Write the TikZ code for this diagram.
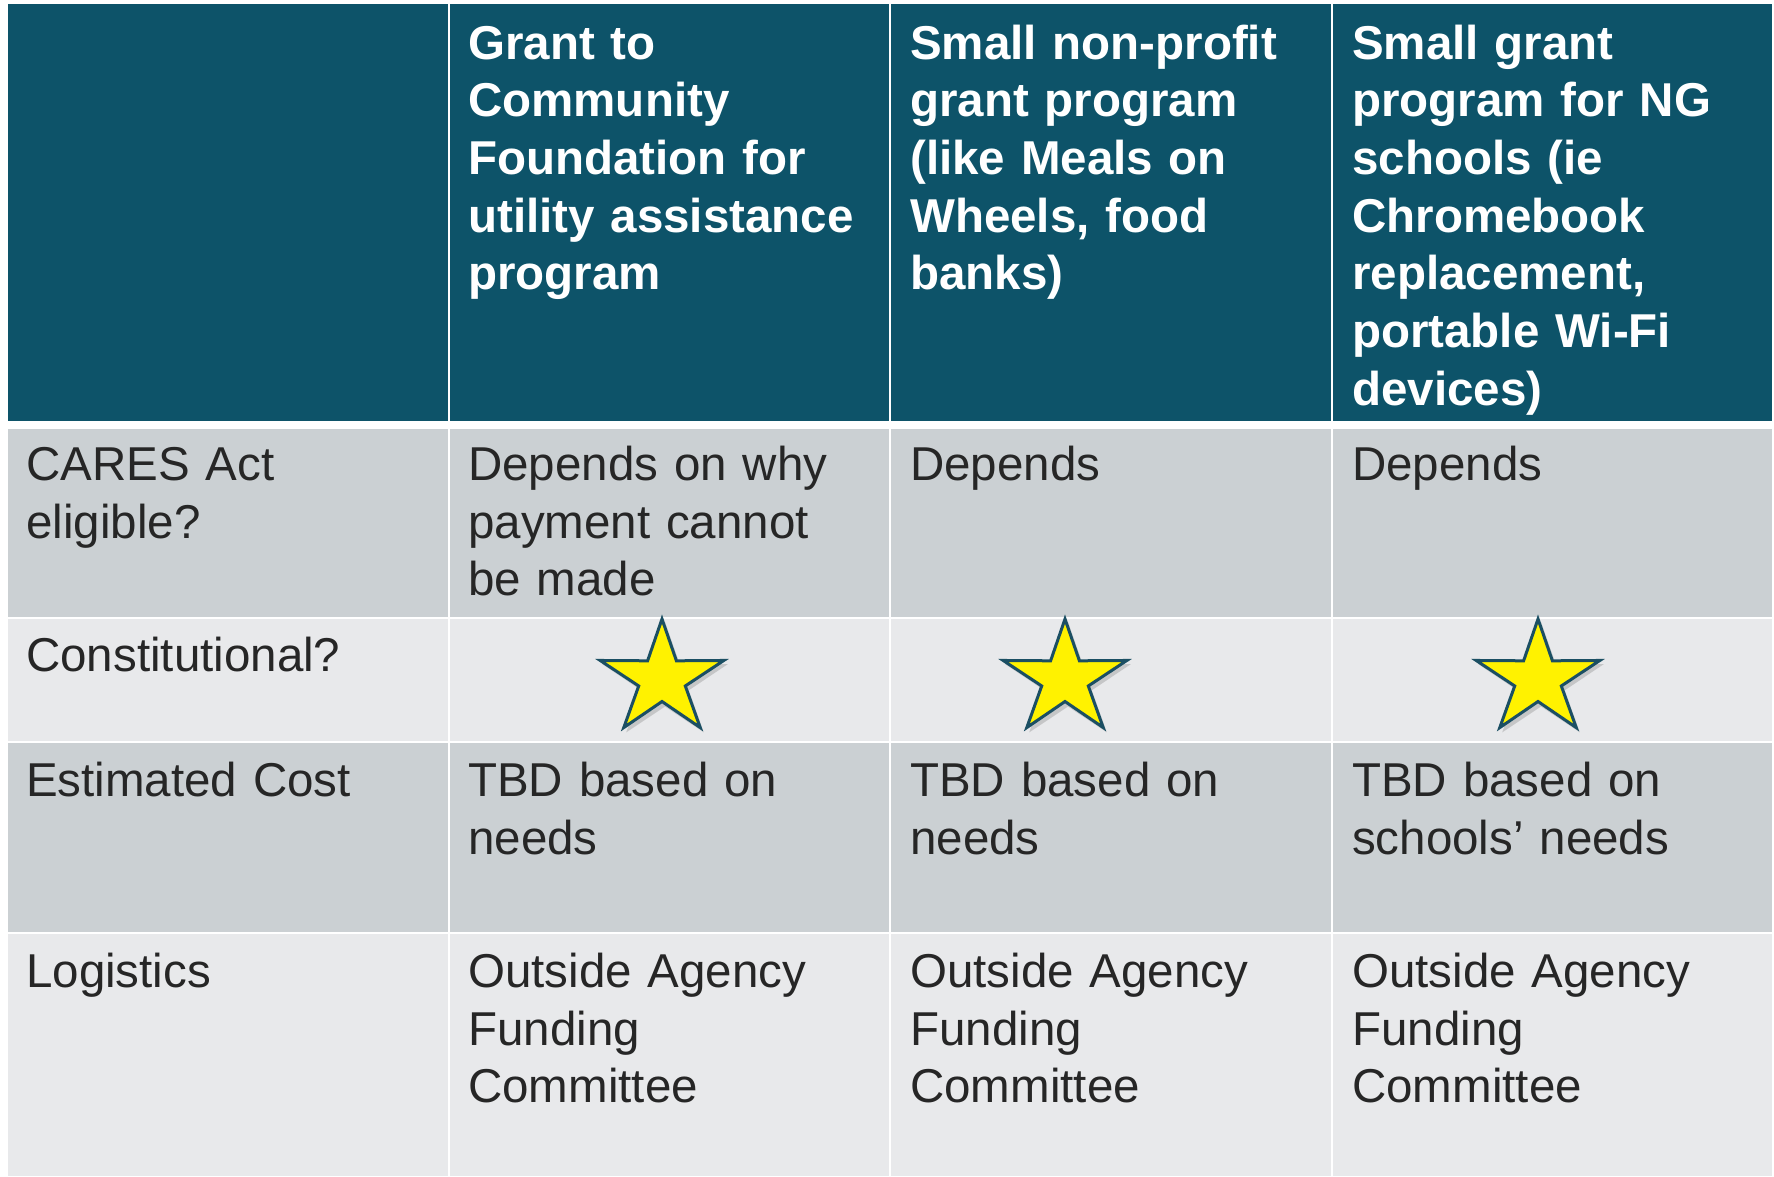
\documentclass[tikz,border=0pt]{standalone}
\usepackage{fontspec}
\setmainfont{Liberation Sans}
\usepackage{xcolor}
\definecolor{headteal}{HTML}{0D5369}
\definecolor{rowdark}{HTML}{CBD0D3}
\definecolor{rowlight}{HTML}{E8E9EB}
\definecolor{bodytext}{HTML}{262626}
\definecolor{staredge}{HTML}{1B4F63}
\tikzset{
  headtext/.style={anchor=base west, inner sep=0pt, text width=430pt, align=left,
    text=white, font=\bfseries\fontsize{47.5}{57.7}\selectfont},
  celltext/.style={anchor=base west, inner sep=0pt, text width=430pt, align=left,
    text=bodytext, font=\fontsize{47.5}{57.7}\selectfont},
  starfill/.style={fill=yellow, draw=staredge, line width=3pt, line join=miter},
  starshade/.style={fill=black, opacity=0.15}
}

\begin{document}
\begin{tikzpicture}[x=1pt,y=1pt]
\useasboundingbox (0,0) rectangle (1774,-1176);
\fill [white] (0,0) rectangle (1774,-1176);
\fill [headteal] (8,-4) rectangle (447.5,-421);
\fill [headteal] (449.7,-4) rectangle (889.3,-421);
\fill [headteal] (891.3,-4) rectangle (1330.5,-421);
\fill [headteal] (1332.5,-4) rectangle (1772,-421);
\fill [rowdark] (8,-428.7) rectangle (447.5,-616.5);
\fill [rowdark] (449.7,-428.7) rectangle (889.3,-616.5);
\fill [rowdark] (891.3,-428.7) rectangle (1330.5,-616.5);
\fill [rowdark] (1332.5,-428.7) rectangle (1772,-616.5);
\fill [rowlight] (8,-618.5) rectangle (447.5,-741);
\fill [rowlight] (449.7,-618.5) rectangle (889.3,-741);
\fill [rowlight] (891.3,-618.5) rectangle (1330.5,-741);
\fill [rowlight] (1332.5,-618.5) rectangle (1772,-741);
\fill [rowdark] (8,-743) rectangle (447.5,-931.5);
\fill [rowdark] (449.7,-743) rectangle (889.3,-931.5);
\fill [rowdark] (891.3,-743) rectangle (1330.5,-931.5);
\fill [rowdark] (1332.5,-743) rectangle (1772,-931.5);
\fill [rowlight] (8,-934) rectangle (447.5,-1176);
\fill [rowlight] (449.7,-934) rectangle (889.3,-1176);
\fill [rowlight] (891.3,-934) rectangle (1330.5,-1176);
\fill [rowlight] (1332.5,-934) rectangle (1772,-1176);
\node [headtext] (h1) at (468,-59) {Grant to\\Community\\Foundation for\\utility assistance\\program};
\node [headtext] (h2) at (910,-59) {Small non-profit\\grant program\\(like Meals on\\Wheels, food\\banks)};
\node [headtext] (h3) at (1352,-59) {Small grant\\program for NG\\schools (ie\\Chromebook\\replacement,\\portable Wi-Fi\\devices)};
\node [celltext] (l1) at (26,-480.5) {CARES Act\\eligible?};
\node [celltext] (l2) at (26,-671.5) {Constitutional?};
\node [celltext] (l3) at (26,-796.5) {Estimated Cost};
\node [celltext] (l4) at (26,-987.5) {Logistics};
\node [celltext] (c11) at (468,-480.5) {Depends on why\\payment cannot\\be made};
\node [celltext] (c12) at (910,-480.5) {Depends};
\node [celltext] (c13) at (1352,-480.5) {Depends};
\node [celltext] (c31) at (468,-796.5) {TBD based on\\needs};
\node [celltext] (c32) at (910,-796.5) {TBD based on\\needs};
\node [celltext] (c33) at (1352,-796.5) {TBD based on\\schools’ needs};
\node [celltext] (c41) at (468,-987.5) {Outside Agency\\Funding\\Committee};
\node [celltext] (c42) at (910,-987.5) {Outside Agency\\Funding\\Committee};
\node [celltext] (c43) at (1352,-987.5) {Outside Agency\\Funding\\Committee};
\foreach \sx in {662,1065,1538} {
  \begin{scope}[shift={(\sx+3,-683)}]
    \fill [starshade] (90:66 and 61) -- (126:25 and 23.5) -- (162:66 and 61) -- (198:25 and 23.5)
      -- (234:66 and 61) -- (270:25 and 23.5) -- (306:66 and 61) -- (342:25 and 23.5)
      -- (18:66 and 61) -- (54:25 and 23.5) -- cycle;
  \end{scope}
  \begin{scope}[shift={(\sx,-679)}]
    \draw [starfill] (90:65 and 60) -- (126:24.5 and 22.5) -- (162:65 and 60) -- (198:24.5 and 22.5)
      -- (234:65 and 60) -- (270:24.5 and 22.5) -- (306:65 and 60) -- (342:24.5 and 22.5)
      -- (18:65 and 60) -- (54:24.5 and 22.5) -- cycle;
  \end{scope}
}
\end{tikzpicture}
\end{document}
